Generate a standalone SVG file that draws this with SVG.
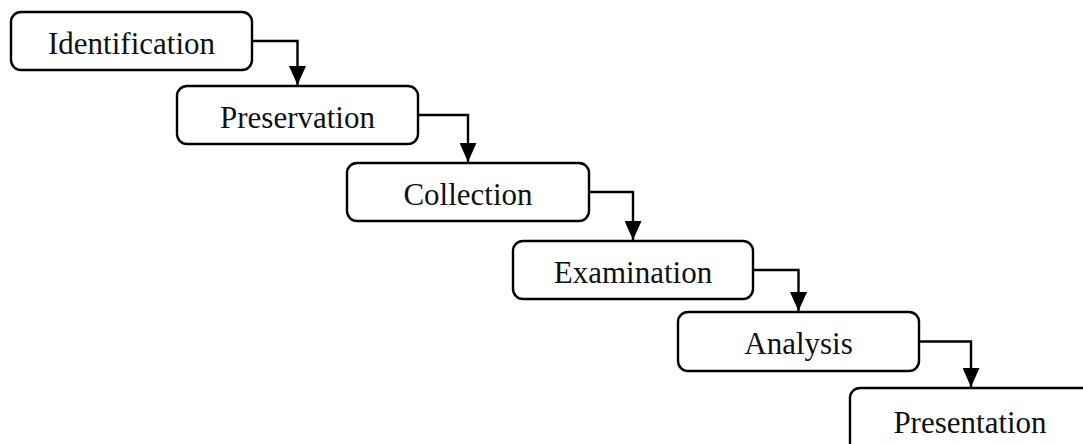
<svg xmlns="http://www.w3.org/2000/svg" width="1083" height="444" viewBox="0 0 1083 444">
<defs>
<style>
.box{fill:#fff;stroke:#000;stroke-width:2.4}
.lbl{font-family:"Liberation Serif","Times New Roman",serif;font-size:31px;fill:#111;text-anchor:middle}
.conn{fill:none;stroke:#000;stroke-width:2.4}
</style>
<marker id="ah" markerWidth="19" markerHeight="17" refX="19" refY="8.5" orient="auto" markerUnits="userSpaceOnUse" viewBox="0 0 19 17">
<path d="M0,0 L19,8.5 L0,17 Z" fill="#000"/>
</marker>
</defs>
<rect width="1083" height="444" fill="#fff"/>
<g id="connectors">
<path class="conn" d="M252,41 H297.5 V85" marker-end="url(#ah)"/>
<path class="conn" d="M418,115 H468 V162" marker-end="url(#ah)"/>
<path class="conn" d="M589,192 H633 V240" marker-end="url(#ah)"/>
<path class="conn" d="M753,270 H798.5 V311" marker-end="url(#ah)"/>
<path class="conn" d="M919,341.5 H971 V387" marker-end="url(#ah)"/>
</g>
<g id="identification">
<rect class="box" x="11" y="12" width="241" height="58" rx="10"/>
<text class="lbl" x="131.5" y="54">Identification</text>
</g>
<g id="preservation">
<rect class="box" x="177" y="86" width="241" height="58" rx="10"/>
<text class="lbl" x="297.5" y="128">Preservation</text>
</g>
<g id="collection">
<rect class="box" x="347" y="163" width="242" height="58" rx="10"/>
<text class="lbl" x="468" y="205">Collection</text>
</g>
<g id="examination">
<rect class="box" x="513" y="241" width="240" height="58" rx="10"/>
<text class="lbl" x="633" y="283">Examination</text>
</g>
<g id="analysis">
<rect class="box" x="678" y="312" width="241" height="59" rx="10"/>
<text class="lbl" x="798.5" y="354">Analysis</text>
</g>
<g id="presentation">
<rect class="box" x="850" y="388" width="260" height="70" rx="10"/>
<text class="lbl" x="970" y="433">Presentation</text>
</g>
</svg>
